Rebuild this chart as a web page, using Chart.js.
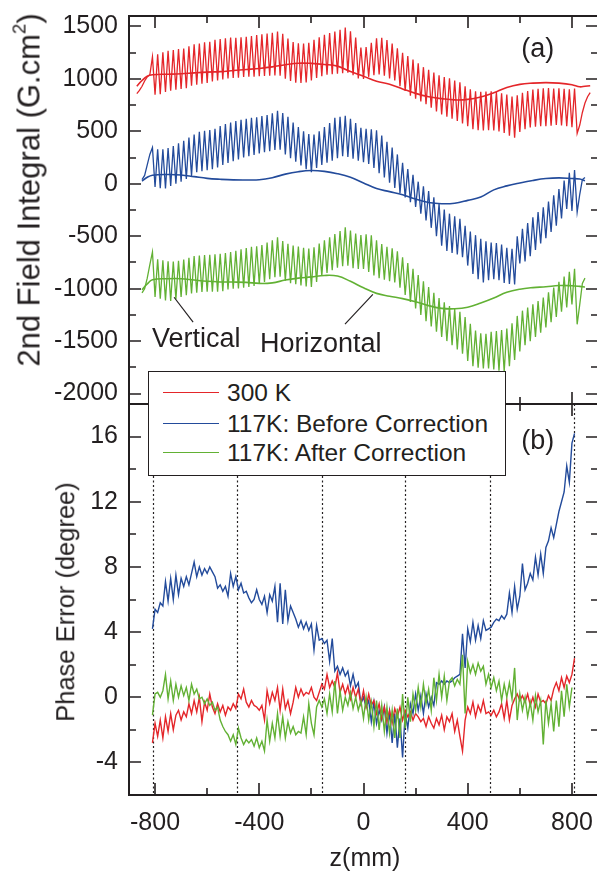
<!DOCTYPE html>
<html>
<head>
<meta charset="utf-8">
<title>2nd field integral and phase error</title>
<script src="https://cdn.jsdelivr.net/npm/chart.js@4.4.1/dist/chart.umd.min.js"></script>
<style>
  body { margin: 0; background: #fff; }
  #page { position: relative; width: 597px; height: 872px; overflow: hidden; font-family: 'Liberation Sans', Arial, sans-serif; color: #231f20; }
  canvas { position: absolute; left: 0; }
  #fieldCanvas { top: 0; }
  #phaseCanvas { top: 394px; }
  .legend { position: absolute; left: 148px; top: 371px; width: 356px; height: 103px; border: 1.5px solid #231f20; background: #fff; }
  .legend .row { position: absolute; left: 0; width: 100%; height: 24px; }
  .legend .swatch { position: absolute; left: 14px; top: 11px; width: 56px; height: 0; border-top: 1.5px solid; }
  .legend .label { position: absolute; left: 78px; top: 0; font-size: 24.5px; line-height: 24px; white-space: nowrap; }
  .title { position: absolute; white-space: nowrap; line-height: 1; transform: translate(-50%, -50%); }
  .title.rot { transform: translate(-50%, -50%) rotate(-90deg); }
  .title .sup { font-size: 0.6em; position: relative; top: -0.75em; }
</style>
</head>
<body>
<div id="page">
  <canvas id="fieldCanvas" width="610" height="406"></canvas>
  <canvas id="phaseCanvas" width="610" height="478"></canvas>
  <div class="title rot" style="left:29px; top:190px; font-size:31px;">2nd Field Integral (G.cm<span class="sup">2</span>)</div>
  <div class="title rot" style="left:66px; top:602px; font-size:25.5px;">Phase Error (degree)</div>
  <div class="title" style="left:365px; top:857px; font-size:25px;">z(mm)</div>
  <div class="legend" id="legend"></div>
</div>
<script>
//Axes
const zTicks = [-800, -600, -400, -200, 0, 200, 400, 600, 800];
const fieldTicks = [-2000, -1750, -1500, -1250, -1000, -750, -500, -250, 0, 250, 500, 750, 1000, 1250, 1500];
const phaseTicks = [-4, -2, 0, 2, 4, 6, 8, 10, 12, 14, 16];
const dottedZ = [-807, -484, -161, 161, 484, 807];

const seriesNames = ['300 K', '117K: Before Correction', '117K: After Correction'];
const seriesColours = ['#e4262a', '#234b9b', '#62b134'];

//(a) vertical traces: lead-in at z=-870..-820, peaks at z=-810..810 (step 20),
//troughs at z=-800..800 (step 20), tail at z=820..870
const redVHead = [860, 890, 930, 980, 1020, 1040];
const redVPeak = [
  1210, 1235, 1255, 1268, 1275, 1286, 1290, 1312, 1330, 1338,
  1350, 1355, 1372, 1380, 1388, 1395, 1392, 1398, 1402, 1410,
  1418, 1425, 1432, 1440, 1452, 1430, 1385, 1352, 1340, 1338,
  1345, 1372, 1398, 1420, 1438, 1452, 1468, 1490, 1455, 1395,
  1300, 1305, 1345, 1388, 1392, 1370, 1338, 1292, 1250, 1218,
  1185, 1150, 1112, 1088, 1060, 1035, 1018, 1005, 985, 968,
  930, 900, 882, 878, 880, 882, 875, 862, 850, 832,
  845, 868, 885, 898, 905, 910, 912, 908, 910, 905,
  900, 908
];
const redVTrough = [
  850, 855, 875, 888, 898, 905, 912, 935, 945, 955,
  962, 975, 985, 995, 1005, 1010, 1012, 1018, 1020, 1022,
  1025, 1028, 1030, 1032, 1030, 1002, 980, 965, 962, 966,
  985, 1008, 1025, 1040, 1045, 1050, 1055, 1060, 1035, 1005,
  1000, 1020, 1035, 1042, 1030, 1005, 985, 930, 885, 840,
  812, 785, 760, 725, 690, 662, 640, 620, 598, 575,
  548, 520, 510, 508, 510, 508, 500, 485, 458, 440,
  495, 520, 538, 545, 548, 550, 555, 560, 556, 548,
  540
];
const redVTail = [480, 560, 680, 770, 830, 870];

const blueVHead = [null, null, 40, 80, 180, 280];
const blueVPeak = [
  345, 330, 330, 342, 360, 385, 410, 440, 470, 495,
  505, 512, 525, 550, 570, 585, 598, 610, 620, 630,
  634, 645, 655, 672, 697, 675, 640, 585, 540, 500,
  475, 470, 500, 540, 580, 630, 640, 649, 620, 580,
  535, 525, 520, 510, 460, 400, 345, 280, 200, 140,
  85, 20, -25, -70, -130, -190, -245, -285, -310, -335,
  -400, -455, -490, -525, -548, -560, -565, -580, -610, -620,
  -500, -430, -375, -320, -270, -225, -170, -110, -50, 30,
  105, 130
];
const blueVTrough = [
  -30, -42, -45, -20, 0, 20, 45, 75, 110, 120,
  130, 138, 155, 180, 198, 215, 232, 250, 262, 275,
  290, 300, 310, 322, 325, 280, 245, 210, 175, 140,
  110, 150, 180, 200, 220, 245, 262, 255, 240, 220,
  205, 190, 150, 100, 60, 10, -40, -90, -130, -175,
  -220, -285, -350, -420, -500, -590, -640, -660, -675, -700,
  -780, -860, -910, -940, -920, -910, -920, -945, -955, -960,
  -760, -740, -690, -630, -570, -520, -460, -400, -330, -240,
  -260
];
const blueVTail = [-270, -100, 40, 60, null, null];

const greenVHead = [null, null, -1040, -1000, -900, -770];
const greenVPeak = [
  -650, -720, -730, -740, -742, -735, -722, -705, -690, -685,
  -680, -678, -672, -668, -660, -652, -640, -625, -612, -602,
  -595, -585, -560, -540, -510, -545, -572, -588, -598, -610,
  -618, -605, -570, -540, -510, -480, -450, -415, -445, -475,
  -490, -482, -492, -540, -575, -600, -615, -645, -700, -755,
  -810, -870, -930, -985, -1040, -1090, -1130, -1165, -1195, -1221,
  -1270, -1335, -1400, -1425, -1430, -1412, -1405, -1395, -1380, -1330,
  -1260, -1210, -1180, -1150, -1118, -1085, -1035, -990, -935, -885,
  -840, -810
];
const greenVTrough = [
  -1080, -1095, -1112, -1118, -1100, -1080, -1062, -1045, -1038, -1032,
  -1030, -1030, -1028, -1025, -1008, -1000, -998, -992, -985, -975,
  -955, -935, -910, -890, -885, -925, -948, -958, -970, -980,
  -985, -935, -880, -850, -825, -800, -785, -782, -805, -812,
  -812, -840, -875, -900, -915, -930, -940, -990, -1060, -1126,
  -1190, -1250, -1310, -1360, -1410, -1460, -1500, -1540, -1580, -1620,
  -1690, -1740, -1755, -1760, -1762, -1770, -1782, -1790, -1740, -1680,
  -1600, -1540, -1500, -1460, -1420, -1370, -1320, -1270, -1220, -1180,
  -1150
];
const greenVTail = [-1340, -1150, -950, -900, null, null];

//(a) horizontal traces
const horizZ = [-870, -850, -830, -810, -750, -700, -650, -600, -550, -500, -450, -400, -350,
  -300, -250, -200, -150, -100, -50, 0, 50, 100, 150, 200, 250, 300, 350, 400, 450, 500,
  550, 600, 650, 700, 750, 800, 830, 850, 870];
const redHoriz = [930, 985, 1025, 1040, 1045, 1050, 1058, 1065, 1070, 1080, 1090, 1100, 1115,
  1135, 1150, 1148, 1138, 1122, 1070, 1025, 978, 950, 905, 862, 830, 812, 800, 805, 828, 868,
  918, 948, 960, 965, 960, 945, 925, 930, 935];
const blueHoriz = [null, 25, 62, 82, 88, 84, 68, 52, 43, 37, 36, 38, 58,
  92, 115, 126, 118, 96, 62, 8, -45, -75, -105, -145, -178, -190, -185, -158, -126, -58,
  -20, 8, 32, 50, 56, 50, 46, 30, null];
const greenHoriz = [null, -1010, -955, -915, -905, -905, -918, -930, -936, -937, -940, -950, -945,
  -918, -900, -888, -874, -880, -930, -992, -1045, -1072, -1095, -1125, -1162, -1188, -1192, -1178, -1138, -1090,
  -1035, -1005, -990, -982, -970, -972, -978, -984, null];

//(b) phase error, z=-810..810 step 10
const redPhase = [
  -2.8, -1.6, -2.4, -1.4, -2.5, -1.2, -2.1, -1.0, -2.0, -1.1,
  -0.8, -1.4, -0.9, -1.2, -0.4, -1.0, -0.2, -0.9, 0.0, -1.5,
  -0.3, -0.8, 0.2, -0.6, -1.0, -0.4, -0.9, -0.5, -1.1, -0.6,
  -0.8, -0.4, -0.7, 0.2, -0.1, 0.5, -0.3, -0.6, -0.2, -0.5,
  -0.6, -0.8, -0.5, -1.4, 0.4, -0.4, 0.3, -0.2, 0.6, -0.8,
  0.5, -0.7, -0.2, -1.0, -0.3, 0.6, 0.0, 0.5, 0.1, 0.3,
  0.2, 0.6, 0.0, -0.2, 0.3, 0.8, 0.5, 1.4, 0.6, 1.0,
  0.6, 1.5, 0.3, 0.8, 0.2, 0.7, -0.1, 0.6, 0.0, 0.5,
  -0.4, 0.4, -0.6, 0.2, -0.5, -0.2, -1.0, -0.4, -1.3, -0.6,
  -1.5, -0.8, -1.6, -0.7, -1.2, -0.6, -1.4, -0.8, -1.2, -0.9,
  -1.4, -1.0, -1.2, -1.5, -1.3, -1.8, -1.2, -1.6, -1.9, -1.3,
  -1.7, -1.1, -2.0, -1.2, -1.5, -1.0, -2.1, -1.4, -2.4, -3.3,
  -1.4, -0.6, -1.0, -0.3, -1.2, -0.5, -0.9, -0.2, -1.0, -0.9,
  -1.1, -0.8, -1.2, -0.9, -0.4, -1.3, -0.2, -1.4, -0.5, -0.1,
  0.2, -0.2, 0.1, -0.3, 0.2, -0.5, 0.0, -0.6, 0.2, -0.3,
  -0.2, -0.4, 0.1, -0.2, 0.5, 0.9, 0.4, 1.2, 0.6, 1.3,
  0.9, 1.4, 2.4
];
const bluePhase = [
  4.2, 5.4, 5.2, 5.8, 5.6, 7.1, 5.9, 7.3, 6.0, 7.5,
  6.3, 7.3, 6.8, 7.4, 6.9, 7.6, 8.3, 7.4, 8.0, 7.5,
  7.9, 7.6, 8.0, 7.7, 7.4, 6.7, 6.9, 6.5, 6.8, 6.2,
  7.6, 6.8, 7.4, 6.6, 7.0, 6.4, 6.5, 6.1, 5.8, 6.0,
  6.6, 6.0, 5.7, 6.2, 5.2, 6.3, 5.9, 6.8, 4.6, 7.0,
  4.5, 6.6, 4.7, 5.6, 5.2, 4.8, 4.3, 4.7, 4.2, 4.6,
  4.1, 4.5, 2.9, 4.4, 3.5, 3.6, 3.3, 3.5, 2.2, 3.6,
  1.6, 1.9, 1.4, 1.8, 1.3, 1.6, 0.7, 1.4, 0.6, 0.9,
  -0.4, 0.0, -0.6, -0.2, -1.5, -0.3, -1.6, -0.8, -1.4, -0.6,
  -2.2, -0.9, -2.8, -1.0, -3.1, -1.3, -3.7, -1.0, -1.9, -0.4,
  -1.0, 0.2, -0.8, 0.1, -1.0, 0.2, -0.6, 0.0, -0.5, 0.9,
  0.8, 1.0, 0.8, 1.0, 0.9, 1.0, 1.2, 1.3, 1.4, 3.9,
  1.8, 4.2, 3.4, 4.6, 3.5, 4.4, 3.6, 4.7, 4.1, 4.2,
  4.3, 4.6, 4.8, 4.7, 5.0, 4.8, 5.1, 6.4, 5.2, 6.8,
  5.4, 6.2, 8.2, 6.6, 7.0, 7.6, 7.2, 8.6, 7.5, 8.8,
  7.6, 9.2, 9.6, 10.4, 9.8, 10.6, 11.4, 12.0, 12.6, 14.2,
  13.2, 15.6, 16.2
];
const greenPhase = [
  -1.1, 0.2, 0.3, 0.0, 0.4, 1.4, -0.1, 1.0, -0.2, 0.8,
  0.0, 0.7, 0.1, 0.6, -0.2, 0.8, 0.2, 0.5, -0.1, 0.0,
  -0.4, -0.1, -0.5, -0.3, -0.8, -0.6, -1.4, -1.8, -2.1, -2.3,
  -2.7, -2.3, -2.9, -1.9, -2.5, -2.9, -2.6, -2.8, -2.6, -3.0,
  -2.5, -3.1, -2.7, -3.3, -1.4, -2.7, -1.6, -2.5, -1.0, -2.4,
  -1.2, -2.5, -1.5, -2.2, -1.8, -2.3, -2.1, -2.2, -1.2, -2.3,
  -0.4, -1.6, -2.3, -0.6, -0.2, -0.6, -0.1, -1.0, 0.2, -0.9,
  1.0, -1.0, 0.4, -0.8, 0.0, -0.5, 0.3, -0.7, 0.0, -0.8,
  -0.2, -1.3, 0.0, -1.4, -0.3, -1.8, -0.2, -2.0, -0.5, -2.1,
  -0.6, -2.2, -0.8, -2.5, -0.7, -2.5, 0.2, -1.9, 0.0, -1.5,
  0.2, -0.8, 0.6, -0.6, 0.8, -0.4, 0.5, -0.8, 1.2, -0.2,
  1.4, 0.0, 1.3, -0.2, 1.0, 1.2, 0.7, 1.1, 0.8, 2.6,
  -1.0, 2.2, 1.5, 2.0, 1.4, 2.1, 1.6, 1.9, 0.8, 1.4,
  0.6, 1.2, 0.4, 1.0, -0.2, 0.8, 0.0, 0.9, -0.1, 1.8,
  -1.4, 0.2, -0.8, 0.0, -1.2, -0.3, -1.4, 0.1, -0.9, -0.2,
  -2.9, -0.2, -1.6, -0.4, -2.1, -0.2, -1.8, 0.4, -1.2, 0.8,
  -0.6, 0.6, null
];

const INK = '#231f20';
const FONT = "'Liberation Sans', Arial, sans-serif";

//Annotations, in data units
const fieldNotes = [
  { text: '(a)', z: 605, v: 1210 },
  { text: 'Vertical', z: -812, v: -1558 },
  { text: 'Horizontal', z: -397, v: -1605 }
];
const fieldLeaders = [
  [[-727, -1082], [-654, -1320]],
  [[-71, -1339], [36, -1054]]
];
const phaseNotes = [{ text: '(b)', z: 605, v: 15.24 }];

Chart.defaults.font.family = FONT;
Chart.defaults.color = INK;

function gridZ(start, end, step) {
    let zs = [];
    for (let z = start; z <= end; z += step) zs.push(z);
    return zs;
}

function oscTrace(head, peaks, troughs, tail) {
    let vals = head.slice();
    peaks.forEach((p, i) => {
        vals.push(p);
        if (i < troughs.length) vals.push(troughs[i]);
    });
    return vals.concat(tail);
}

function toPoints(zs, vals) {
    return vals.map((v, i) => ({ x: zs[i], y: v }));
}

function lineSet(zs, vals, colour, width, tension) {
    return {
        data: toPoints(zs, vals),
        borderColor: colour,
        borderWidth: width,
        pointRadius: 0,
        tension: tension,
        fill: false
    };
}

//no automatic padding from the tick labels
function noPad(s) {
    s.paddingTop = 0;
    s.paddingBottom = 0;
    s.paddingLeft = 0;
    s.paddingRight = 0;
}

function xAxis(showLabels, height) {
    return {
        type: 'linear', min: -900, max: 900,
        grid: { display: false, drawTicks: false },
        border: { display: false },
        afterBuildTicks: s => { s.ticks = zTicks.map(v => ({ value: v })); },
        afterFit: s => { s.height = height; noPad(s); },
        ticks: {
            display: showLabels, autoSkip: false, maxRotation: 0, padding: 13,
            color: INK, font: { size: 25 },
            callback: v => v % 400 === 0 ? v : ''
        }
    };
}

function yAxis(min, max, tickVals, major) {
    return {
        type: 'linear', min: min, max: max,
        grid: { display: false, drawTicks: false },
        border: { display: false },
        afterBuildTicks: s => { s.ticks = tickVals.map(v => ({ value: v })); },
        afterFit: s => { s.width = 129; noPad(s); },
        ticks: {
            autoSkip: false, padding: 11, color: INK, font: { size: 25 },
            callback: v => v % major === 0 ? v : ''
        }
    };
}

//frame with inward ticks on all four sides
const framePlugin = {
    id: 'frame',
    afterDatasetsDraw(chart, args, opts) {
        const { ctx, chartArea: a, scales: { x, y } } = chart;
        ctx.save();
        ctx.strokeStyle = INK;
        ctx.lineWidth = 2;
        ctx.strokeRect(a.left, a.top, a.right - a.left, a.bottom - a.top);
        ctx.lineWidth = 1.6;
        ctx.beginPath();
        y.ticks.forEach(t => {
            const py = Math.round(y.getPixelForValue(t.value));
            const len = t.value % opts.yMajor === 0 ? 12 : 7;
            ctx.moveTo(a.left, py); ctx.lineTo(a.left + len, py);
            ctx.moveTo(a.right, py); ctx.lineTo(a.right - len, py);
        });
        x.ticks.forEach(t => {
            const px = Math.round(x.getPixelForValue(t.value));
            const len = t.value % 400 === 0 ? 12 : 7;
            ctx.moveTo(px, a.top); ctx.lineTo(px, a.top + len);
            ctx.moveTo(px, a.bottom); ctx.lineTo(px, a.bottom - len);
        });
        ctx.stroke();
        ctx.restore();
    }
};

const markPlugin = {
    id: 'marks',
    beforeDatasetsDraw(chart, args, opts) {
        if (!opts.dotted) return;
        const { ctx, chartArea: a, scales: { x } } = chart;
        ctx.save();
        ctx.strokeStyle = INK;
        ctx.lineWidth = 1.2;
        ctx.setLineDash([2, 2.5]);
        opts.dotted.forEach(z => {
            const px = Math.round(x.getPixelForValue(z)) + 0.5;
            ctx.beginPath();
            ctx.moveTo(px, a.top);
            ctx.lineTo(px, a.bottom);
            ctx.stroke();
        });
        ctx.restore();
    },
    afterDraw(chart, args, opts) {
        const { ctx, scales: { x, y } } = chart;
        ctx.save();
        ctx.fillStyle = INK;
        ctx.strokeStyle = INK;
        ctx.lineWidth = 1.2;
        ctx.font = '27px ' + FONT;
        ctx.textBaseline = 'alphabetic';
        ctx.textAlign = 'left';
        (opts.notes || []).forEach(n => {
            ctx.fillText(n.text, x.getPixelForValue(n.z), y.getPixelForValue(n.v));
        });
        (opts.leaders || []).forEach(l => {
            ctx.beginPath();
            ctx.moveTo(x.getPixelForValue(l[0][0]), y.getPixelForValue(l[0][1]));
            ctx.lineTo(x.getPixelForValue(l[1][0]), y.getPixelForValue(l[1][1]));
            ctx.stroke();
        });
        ctx.restore();
    }
};

function baseOptions(padding) {
    return {
        responsive: false,
        animation: false,
        layout: { padding: padding },
        plugins: { legend: { display: false }, tooltip: { enabled: false } },
        elements: { point: { radius: 0 } }
    };
}

//(a)
const oscZ = gridZ(-870, 870, 10);
let fieldOpts = baseOptions({ left: 0, top: 16, right: 12, bottom: 2 });
fieldOpts.scales = { x: xAxis(false, 0), y: yAxis(-2100, 1600, fieldTicks, 500) };
fieldOpts.plugins.frame = { yMajor: 500 };
fieldOpts.plugins.marks = { notes: fieldNotes, leaders: fieldLeaders };

new Chart(document.getElementById('fieldCanvas'), {
    type: 'line',
    data: {
        datasets: [
            lineSet(horizZ, redHoriz, seriesColours[0], 1.6, 0.4),
            lineSet(horizZ, blueHoriz, seriesColours[1], 1.6, 0.4),
            lineSet(horizZ, greenHoriz, seriesColours[2], 1.6, 0.4),
            lineSet(oscZ, oscTrace(redVHead, redVPeak, redVTrough, redVTail), seriesColours[0], 1.3, 0),
            lineSet(oscZ, oscTrace(blueVHead, blueVPeak, blueVTrough, blueVTail), seriesColours[1], 1.3, 0),
            lineSet(oscZ, oscTrace(greenVHead, greenVPeak, greenVTrough, greenVTail), seriesColours[2], 1.3, 0)
        ]
    },
    options: fieldOpts,
    plugins: [markPlugin, framePlugin]
});

//(b)
const phaseZ = gridZ(-810, 810, 10);
let phaseOpts = baseOptions({ left: 0, top: 10, right: 12, bottom: 0 });
phaseOpts.scales = { x: xAxis(true, 77), y: yAxis(-6, 18, phaseTicks, 4) };
phaseOpts.plugins.frame = { yMajor: 4 };
phaseOpts.plugins.marks = { notes: phaseNotes, dotted: dottedZ };

new Chart(document.getElementById('phaseCanvas'), {
    type: 'line',
    data: {
        datasets: [
            lineSet(phaseZ, greenPhase, seriesColours[2], 1.4, 0),
            lineSet(phaseZ, redPhase, seriesColours[0], 1.4, 0),
            lineSet(phaseZ, bluePhase, seriesColours[1], 1.4, 0)
        ]
    },
    options: phaseOpts,
    plugins: [markPlugin, framePlugin]
});

//legend
const rowTops = [8.5, 39.5, 68.5];
seriesNames.forEach((name, i) => {
    let row = document.createElement('div');
    row.className = 'row';
    row.style.top = rowTops[i] + 'px';
    row.innerHTML = '<div class="swatch" style="border-color:' + seriesColours[i] + '"></div>' +
        '<div class="label">' + name + '</div>';
    document.getElementById('legend').appendChild(row);
});
</script>
</body>
</html>
